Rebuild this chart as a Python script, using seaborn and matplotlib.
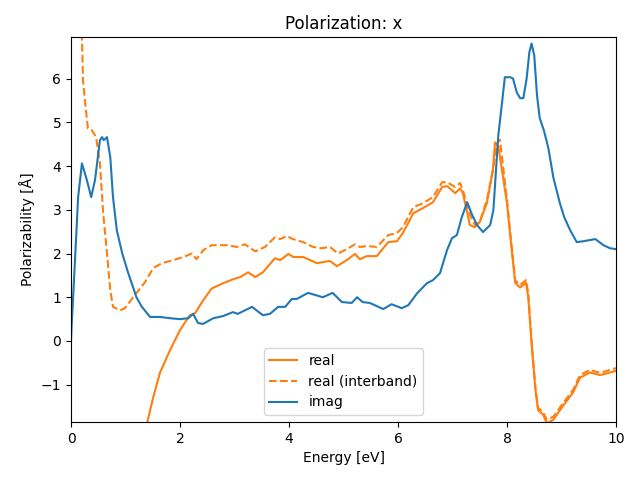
import matplotlib
matplotlib.use("Agg")
import matplotlib.pyplot as plt
import seaborn as sns

# imag
imag_x = [0.0, 0.01, 0.07, 0.13, 0.2, 0.29, 0.37, 0.44, 0.53, 0.57, 0.6, 0.66, 0.72, 0.77, 0.84, 0.94,
          1.05, 1.2, 1.3, 1.45, 1.63, 1.82, 2.0, 2.15, 2.24, 2.33, 2.42, 2.61, 2.79, 2.97, 3.06,
          3.32, 3.52, 3.65, 3.8, 3.93, 4.05, 4.14, 4.35, 4.62, 4.8, 4.97, 5.15, 5.25, 5.35, 5.48,
          5.73, 5.88, 6.07, 6.19, 6.35, 6.53, 6.64, 6.77, 6.9, 6.99, 7.08, 7.17, 7.27, 7.36, 7.45,
          7.56, 7.69, 7.75, 7.84, 7.91, 7.96, 8.06, 8.11, 8.18, 8.24, 8.3, 8.36, 8.41, 8.45, 8.5,
          8.55, 8.6, 8.68, 8.76, 8.85, 8.97, 9.05, 9.16, 9.28, 9.4, 9.62, 9.77, 9.89, 10.0]
imag_y = [0.0, 0.32, 1.78, 3.29, 4.06, 3.68, 3.29, 3.68, 4.59, 4.66, 4.59, 4.66, 4.2, 3.29, 2.53, 2.0,
          1.55, 1.0, 0.78, 0.55, 0.55, 0.52, 0.5, 0.52, 0.62, 0.41, 0.39, 0.52, 0.57, 0.66, 0.62,
          0.78, 0.59, 0.62, 0.78, 0.78, 0.96, 0.96, 1.1, 1.0, 1.1, 0.89, 0.87, 1.0, 0.89, 0.87,
          0.73, 0.84, 0.75, 0.82, 1.09, 1.32, 1.39, 1.55, 2.08, 2.35, 2.42, 2.83, 3.17, 2.88, 2.65,
          2.49, 2.65, 2.99, 4.7, 5.46, 6.03, 6.03, 6.0, 5.68, 5.55, 5.55, 6.0, 6.6, 6.8, 6.53,
          5.62, 5.1, 4.8, 4.4, 3.74, 3.15, 2.83, 2.53, 2.26, 2.28, 2.33, 2.19, 2.12, 2.1]

# real (interband)
inter_x = [0.15, 0.2, 0.22, 0.26, 0.31, 0.38, 0.46, 0.53, 0.59, 0.66, 0.72, 0.77, 0.9, 0.99,
           1.14, 1.36, 1.51, 1.67, 1.88, 2.06, 2.22, 2.3, 2.43, 2.58, 2.86, 3.04, 3.19, 3.38,
           3.56, 3.74, 3.84, 3.96, 4.07, 4.26, 4.44, 4.6, 4.75, 4.9, 5.06, 5.21, 5.3, 5.43, 5.61,
           5.82, 5.98, 6.09, 6.28, 6.46, 6.64, 6.81, 6.9, 7.05, 7.14, 7.19, 7.32, 7.41, 7.5, 7.63,
           7.74, 7.81, 7.87, 8.0, 8.06, 8.15, 8.24, 8.35, 8.39, 8.45, 8.52, 8.57, 8.66, 8.73, 8.85,
           9.03, 9.21, 9.34, 9.52, 9.71, 9.89, 10.0]
inter_y = [7.8, 6.94, 5.96, 5.43, 4.86, 4.82, 4.66, 4.06, 2.92, 2.0, 1.16, 0.78, 0.7, 0.75,
           1.0, 1.35, 1.67, 1.78, 1.85, 1.92, 2.0, 1.87, 2.08, 2.19, 2.19, 2.15, 2.21, 2.05,
           2.15, 2.37, 2.33, 2.4, 2.33, 2.26, 2.15, 2.12, 2.15, 2.0, 2.1, 2.21, 2.15, 2.17, 2.15,
           2.42, 2.47, 2.6, 3.06, 3.15, 3.29, 3.63, 3.63, 3.52, 3.61, 3.45, 2.88, 2.65, 2.72, 3.22,
           3.9, 4.5, 4.6, 3.22, 2.47, 1.39, 1.28, 1.39, 1.09, 0.02, -1.05, -1.53, -1.62, -1.8, -1.73,
           -1.42, -1.12, -0.78, -0.66, -0.73, -0.66, -0.62]

# real
real_x = [1.3, 1.4, 1.51, 1.63, 1.82, 2.0, 2.18, 2.28, 2.43, 2.58, 2.79, 2.97, 3.1, 3.25, 3.38,
          3.52, 3.74, 3.84, 3.99, 4.08, 4.26, 4.51, 4.75, 4.88, 5.06, 5.21, 5.3, 5.43, 5.61, 5.82,
          5.98, 6.09, 6.28, 6.46, 6.64, 6.81, 6.9, 7.05, 7.14, 7.19, 7.32, 7.41, 7.5, 7.63, 7.74,
          7.78, 7.84, 8.0, 8.06, 8.15, 8.24, 8.35, 8.39, 8.45, 8.52, 8.57, 8.66, 8.73, 8.85, 9.03,
          9.21, 9.34, 9.52, 9.71, 9.89, 10.0]
real_y = [-2.6, -1.85, -1.28, -0.73, -0.2, 0.25, 0.59, 0.64, 0.94, 1.2, 1.32, 1.41, 1.46, 1.57, 1.46,
          1.57, 1.89, 1.85, 1.99, 1.92, 1.92, 1.78, 1.83, 1.71, 1.85, 1.99, 1.87, 1.94, 1.94, 2.26,
          2.28, 2.47, 2.92, 3.04, 3.17, 3.52, 3.54, 3.38, 3.49, 3.38, 2.65, 2.6, 2.72, 3.15, 3.9,
          4.54, 4.45, 3.15, 2.4, 1.33, 1.22, 1.33, 1.0, -0.05, -1.1, -1.58, -1.68, -1.88, -1.8,
          -1.48, -1.18, -0.84, -0.72, -0.78, -0.72, -0.68]

fig, ax = plt.subplots(figsize=(6.4, 4.8), dpi=100)
sns.lineplot(x=real_x, y=real_y, ax=ax, color="#ff7f0e", label="real", sort=False)
sns.lineplot(x=inter_x, y=inter_y, ax=ax, color="#ff7f0e", linestyle="--", label="real (interband)", sort=False)
sns.lineplot(x=imag_x, y=imag_y, ax=ax, color="#1f77b4", label="imag", sort=False)

ax.set_xlim(0, 10)
ax.set_ylim(-1.85, 6.95)
ax.set_title("Polarization: x")
ax.set_xlabel("Energy [eV]")
ax.set_ylabel("Polarizability [Å]")
ax.legend(loc="lower center")
fig.subplots_adjust(left=0.111, right=0.9625, top=0.923, bottom=0.121)
fig.savefig("out.png", dpi=100)
